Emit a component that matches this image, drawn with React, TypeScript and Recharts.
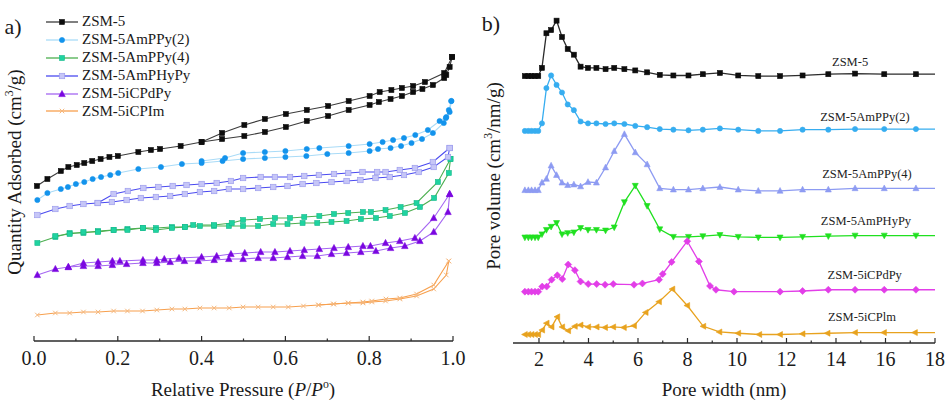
import React from 'react'
import { LineChart, Line, XAxis, YAxis, ReferenceDot } from 'recharts'

type Pt = [number, number]

// a) N2 isotherms, [P/P0, quantity adsorbed (stacked, offset units)]
const zsm5Ads: Pt[] = [[0.007,155],[0.032,162],[0.064,170],[0.082,174],[0.102,176],[0.120,178],[0.139,180],[0.159,182],[0.180,184],[0.200,185],[0.249,189],[0.279,191],[0.301,192],[0.350,195],[0.400,199],[0.449,202],[0.502,205],[0.551,209],[0.601,214],[0.651,220],[0.702,225],[0.751,231],[0.801,236],[0.823,239],[0.851,242],[0.878,245],[0.905,249],[0.927,252],[0.952,256],[0.979,263],[0.984,266],[0.992,274],[0.998,284]]
const zsm5Des: Pt[] = [[0.400,199],[0.449,208],[0.502,216],[0.551,222],[0.601,227],[0.651,231],[0.702,235],[0.751,240],[0.801,245],[0.825,249],[0.853,251],[0.878,253],[0.905,255],[0.933,259],[0.979,268],[0.998,284]]

const ampPy2Ads: Pt[] = [[0.008,141],[0.032,148],[0.064,152],[0.081,154],[0.100,157],[0.120,159],[0.140,162],[0.160,164],[0.182,166],[0.201,168],[0.249,172],[0.303,174],[0.353,177],[0.400,178],[0.450,180],[0.499,182],[0.551,183],[0.600,184],[0.650,185],[0.700,187],[0.751,188],[0.801,190],[0.821,192],[0.851,193],[0.876,195],[0.901,198],[0.926,202],[0.952,208],[0.978,218],[0.983,223],[0.992,229],[0.996,240]]
const ampPy2Des: Pt[] = [[0.400,180],[0.456,183],[0.499,188],[0.551,189],[0.600,190],[0.651,192],[0.681,193],[0.751,195],[0.801,197],[0.832,199],[0.857,201],[0.883,203],[0.910,206],[0.940,211],[0.968,220],[0.984,224],[0.990,231],[0.996,240]]

const ampPy4Ads: Pt[] = [[0.008,98],[0.051,104],[0.085,108],[0.118,108],[0.153,110],[0.190,111],[0.223,112],[0.260,113],[0.291,113],[0.329,114],[0.360,114],[0.396,115],[0.430,115],[0.465,115],[0.499,115],[0.535,115],[0.571,117],[0.605,117],[0.641,118],[0.676,118],[0.710,119],[0.746,120],[0.780,122],[0.816,123],[0.849,125],[0.885,128],[0.921,134],[0.955,143],[0.990,168],[0.994,182]]
const ampPy4Des: Pt[] = [[0.051,105],[0.085,107],[0.118,109],[0.153,109],[0.190,111],[0.223,111],[0.260,113],[0.291,111],[0.329,113],[0.360,114],[0.380,116],[0.430,116],[0.472,118],[0.499,121],[0.539,122],[0.575,123],[0.611,123],[0.645,124],[0.681,125],[0.716,127],[0.750,128],[0.785,129],[0.804,129],[0.839,131],[0.875,134],[0.913,138],[0.964,159],[0.994,182]]

const amphyPyAds: Pt[] = [[0.008,126],[0.051,132],[0.085,135],[0.118,137],[0.152,138],[0.186,139],[0.221,141],[0.255,143],[0.291,144],[0.325,145],[0.360,147],[0.396,149],[0.430,150],[0.465,152],[0.499,152],[0.535,153],[0.571,154],[0.605,155],[0.641,157],[0.674,158],[0.710,159],[0.746,160],[0.779,161],[0.815,163],[0.849,164],[0.883,166],[0.918,169],[0.954,174],[0.988,184],[0.992,193]]
const amphyPyDes: Pt[] = [[0.152,138],[0.190,147],[0.224,150],[0.261,153],[0.297,154],[0.331,155],[0.364,156],[0.400,157],[0.436,158],[0.470,160],[0.499,163],[0.541,164],[0.575,164],[0.611,164],[0.645,165],[0.680,166],[0.716,167],[0.750,168],[0.784,169],[0.819,169],[0.839,169],[0.873,171],[0.909,173],[0.952,179],[0.992,193]]

const icpdPyAds: Pt[] = [[0.008,66],[0.051,72],[0.082,74],[0.118,75],[0.153,75],[0.187,76],[0.221,77],[0.260,78],[0.293,78],[0.325,79],[0.359,80],[0.392,80],[0.430,81],[0.465,82],[0.499,82],[0.535,83],[0.571,83],[0.605,84],[0.641,85],[0.676,85],[0.710,87],[0.746,88],[0.780,89],[0.816,90],[0.851,93],[0.885,95],[0.921,100],[0.954,109],[0.988,129],[0.992,147]]
const icpdPyDes: Pt[] = [[0.082,74],[0.118,78],[0.153,79],[0.187,80],[0.205,80],[0.260,81],[0.293,81],[0.311,82],[0.346,83],[0.400,84],[0.436,85],[0.470,87],[0.503,88],[0.541,89],[0.575,89],[0.611,90],[0.645,91],[0.681,92],[0.716,93],[0.750,94],[0.785,95],[0.803,95],[0.839,98],[0.873,100],[0.909,103],[0.954,123],[0.992,147]]

const icpImAds: Pt[] = [[0.008,26],[0.051,28],[0.085,28],[0.118,29],[0.153,29],[0.190,30],[0.223,30],[0.259,30],[0.293,31],[0.329,32],[0.360,32],[0.396,33],[0.430,33],[0.466,33],[0.499,34],[0.535,34],[0.571,34],[0.607,34],[0.643,35],[0.679,36],[0.715,37],[0.750,38],[0.785,38],[0.806,39],[0.839,40],[0.873,42],[0.913,45],[0.954,52],[0.984,66],[0.990,80]]
const icpImDes: Pt[] = [[0.679,36],[0.715,37],[0.750,38],[0.785,39],[0.806,40],[0.840,42],[0.873,43],[0.913,47],[0.954,56],[0.990,80]]

const pressureTicks = [0, 0.1, 0.2, 0.3, 0.4, 0.5, 0.6, 0.7, 0.8, 0.9, 1.0]

// b) pore size distributions (curves offset vertically)
const poreWidth = [1.43,1.57,1.70,1.84,1.97,2.12,2.30,2.49,2.71,2.93,3.16,3.41,3.68,3.98,4.32,4.69,5.04,5.45,5.89,6.37,6.88,7.43,8.04,8.62,9.31,10.05,10.86,11.74,12.65,13.69,14.77,15.95,17.23,18.4]
const poreWidthCPdPy = [1.43,1.57,1.70,1.84,1.97,2.13,2.31,2.51,2.74,2.94,3.18,3.45,3.68,3.99,4.33,4.67,5.00,5.84,6.18,6.85,7.00,7.36,7.99,8.46,8.91,9.15,9.88,11.74,12.65,13.69,14.77,15.95,17.23,18.4]
const poreWidthCPIm = [1.43,1.57,1.70,1.84,1.97,2.13,2.31,2.51,2.74,2.94,3.18,3.45,3.68,3.99,4.33,4.67,5.00,5.43,5.84,6.31,6.85,7.39,7.99,8.64,9.29,10.05,10.90,11.74,12.65,13.66,14.77,15.94,17.19,18.4]

const psdZsm5 = [4.60,4.60,4.60,4.60,4.60,4.73,5.28,5.33,5.48,5.22,5.03,4.94,4.75,4.73,4.73,4.71,4.73,4.71,4.69,4.66,4.62,4.61,4.61,4.63,4.65,4.61,4.60,4.60,4.61,4.63,4.64,4.63,4.63,4.63]
const psdAmPPy2 = [3.73,3.73,3.73,3.73,3.73,3.85,4.41,4.61,4.46,4.34,4.15,4.06,3.88,3.85,3.85,3.84,3.85,3.84,3.81,3.79,3.76,3.75,3.74,3.75,3.77,3.75,3.73,3.73,3.75,3.75,3.76,3.76,3.76,3.76]
const psdAmPPy4 = [2.79,2.79,2.79,2.79,2.79,2.91,2.97,3.18,3.03,2.91,2.87,2.88,2.85,2.92,2.91,3.15,3.41,3.68,3.39,3.20,2.82,2.80,2.80,2.82,2.84,2.80,2.78,2.78,2.80,2.80,2.82,2.82,2.82,2.82]
const psdAmPHyPy = [2.04,2.04,2.04,2.04,2.04,2.09,2.16,2.21,2.27,2.09,2.11,2.12,2.19,2.16,2.16,2.15,2.20,2.60,2.86,2.54,2.17,2.05,2.05,2.06,2.08,2.05,2.04,2.04,2.05,2.06,2.07,2.07,2.07,2.07]
const psdICPdPy = [1.18,1.18,1.18,1.18,1.18,1.26,1.26,1.37,1.44,1.38,1.61,1.52,1.34,1.30,1.30,1.29,1.30,1.29,1.31,1.37,1.46,1.65,1.98,1.66,1.27,1.21,1.18,1.18,1.19,1.21,1.21,1.21,1.21,1.21]
const psdICPIm = [0.50,0.50,0.50,0.50,0.50,0.57,0.68,0.62,0.78,0.62,0.56,0.63,0.65,0.62,0.62,0.61,0.62,0.61,0.64,0.85,1.02,1.22,0.96,0.63,0.54,0.52,0.50,0.50,0.51,0.52,0.53,0.53,0.53,0.53]

const widthTicks = [2, 3, 4, 5, 6, 7, 8, 9, 10, 11, 12, 13, 14, 15, 16, 17, 18]
const volumeTicks = [1, 2, 3, 4, 5]

const FONT = "'Liberation Serif', 'Times New Roman', Times, serif"
const AXIS = '#2b2b2b'
const axisLine = { stroke: AXIS, strokeWidth: 1.3 }

type MarkerStyle = { shape: string; size: number; fill: string; stroke?: string }

function Marker({ cx, cy, m }: { cx: number; cy: number; m: MarkerStyle }) {
  const s = m.size
  const h = s / 2
  const st = { fill: m.fill, stroke: m.stroke ?? m.fill, strokeWidth: 0.6 }
  switch (m.shape) {
    case 'square':
      return <rect x={cx - h} y={cy - h} width={s} height={s} {...st} />
    case 'circle':
      return <circle cx={cx} cy={cy} r={h} {...st} />
    case 'triUp':
      return <polygon points={`${cx},${cy - h * 1.1} ${cx + h},${cy + h * 0.8} ${cx - h},${cy + h * 0.8}`} {...st} />
    case 'triDown':
      return <polygon points={`${cx},${cy + h * 1.1} ${cx + h},${cy - h * 0.8} ${cx - h},${cy - h * 0.8}`} {...st} />
    case 'triLeft':
      return <polygon points={`${cx - h * 1.1},${cy} ${cx + h * 0.8},${cy - h} ${cx + h * 0.8},${cy + h}`} {...st} />
    case 'diamond':
      return <polygon points={`${cx},${cy - h} ${cx + h},${cy} ${cx},${cy + h} ${cx - h},${cy}`} {...st} />
    case 'cross':
      return (
        <g stroke={m.fill} strokeWidth={1}>
          <line x1={cx - h} y1={cy - h} x2={cx + h} y2={cy + h} />
          <line x1={cx - h} y1={cy + h} x2={cx + h} y2={cy - h} />
        </g>
      )
    default:
      return null
  }
}

const dotRenderer = (m: MarkerStyle, id: string, maxX?: number) => (props: any) => {
  const { cx, cy, index, payload } = props
  const k = `${id}-${index}`
  if (typeof cx !== 'number' || typeof cy !== 'number') return <g key={k} />
  if (maxX != null && payload && payload.w > maxX) return <g key={k} />
  return <g key={k}><Marker cx={cx} cy={cy} m={m} /></g>
}

const isoSeries = [
  { name: 'ZSM-5', ads: zsm5Ads, des: zsm5Des, line: '#3c3c3c', marker: { shape: 'square', size: 5, fill: '#0d0d0d' } },
  { name: 'ZSM-5AmPPy(2)', ads: ampPy2Ads, des: ampPy2Des, line: '#a9dbf7', marker: { shape: 'circle', size: 5.2, fill: '#1393ec' } },
  { name: 'ZSM-5AmPPy(4)', ads: ampPy4Ads, des: ampPy4Des, line: '#4caf50', marker: { shape: 'square', size: 5, fill: '#1fd3a0', stroke: '#15b98a' } },
  { name: 'ZSM-5AmPHyPy', ads: amphyPyAds, des: amphyPyDes, line: '#4b4bf0', marker: { shape: 'square', size: 5.5, fill: '#c6c6f7', stroke: '#9595ec' } },
  { name: 'ZSM-5iCPdPy', ads: icpdPyAds, des: icpdPyDes, line: '#a566f2', marker: { shape: 'triUp', size: 6.5, fill: '#7a06e0' } },
  { name: 'ZSM-5iCPIm', ads: icpImAds, des: icpImDes, line: '#f7a04e', marker: { shape: 'cross', size: 4.5, fill: '#f5b77c' } },
]

const psdSeries = [
  { name: 'ZSM-5', x: poreWidth, y: psdZsm5, color: '#2b2b2b', marker: { shape: 'square', size: 5, fill: '#0d0d0d' }, label: [14.57, 4.83] },
  { name: 'ZSM-5AmPPy(2)', x: poreWidth, y: psdAmPPy2, color: '#36adf0', marker: { shape: 'circle', size: 5.2, fill: '#36adf0' }, label: [15.17, 3.96] },
  { name: 'ZSM-5AmPPy(4)', x: poreWidth, y: psdAmPPy4, color: '#8d9bf2', marker: { shape: 'triUp', size: 6, fill: '#8d9bf2' }, label: [15.25, 3.06] },
  { name: 'ZSM-5AmPHyPy', x: poreWidth, y: psdAmPHyPy, color: '#20e020', marker: { shape: 'triDown', size: 6, fill: '#20e020' }, label: [15.21, 2.3] },
  { name: 'ZSM-5iCPdPy', x: poreWidthCPdPy, y: psdICPdPy, color: '#e23ee8', marker: { shape: 'diamond', size: 7, fill: '#e23ee8' }, label: [15.16, 1.45] },
  { name: 'ZSM-5iCPlm', x: poreWidthCPIm, y: psdICPIm, color: '#e8a21e', marker: { shape: 'triLeft', size: 6, fill: '#e8a21e' }, label: [15.05, 0.78] },
]

const toPts = (pts: Pt[]) => pts.map(([p, v]) => ({ p, v }))

function BottomTick(props: any) {
  const { x, y, payload, isMajor, fmt, base } = props
  const major = isMajor(payload.value)
  return (
    <g>
      <line x1={x} x2={x} y1={y} y2={y - (major ? 5 : 2.5)} stroke={AXIS} strokeWidth={1.2} />
      {major && (
        <text x={x} y={y + base} textAnchor="middle" fontSize={20} fontFamily={FONT} fill="#1a1a1a">
          {fmt(payload.value)}
        </text>
      )}
    </g>
  )
}

function LeftTick(props: any) {
  const { x, y } = props
  return <line x1={x} x2={x + 4} y1={y} y2={y} stroke={AXIS} strokeWidth={1.2} />
}

function IsothermChart() {
  return (
    <LineChart width={470} height={402} margin={{ top: 3, right: 17, bottom: 31, left: 34 }}>
      <XAxis xAxisId="top" orientation="top" type="number" domain={[0, 1]} height={0} tick={false} tickLine={false} axisLine={axisLine} />
      <XAxis
        type="number"
        dataKey="p"
        domain={[0, 1]}
        ticks={pressureTicks}
        interval={0}
        tickSize={0}
        tickMargin={0}
        tickLine={false}
        axisLine={axisLine}
        height={30}
        tick={(p: any) => (
          <BottomTick {...p} base={24} isMajor={(v: number) => Math.round(v * 10) % 2 === 0} fmt={(v: number) => v.toFixed(1)} />
        )}
      />
      <YAxis type="number" domain={[0, 338]} width={0} tick={false} tickLine={false} axisLine={axisLine} />
      <YAxis yAxisId="right" orientation="right" type="number" domain={[0, 338]} width={0} tick={false} tickLine={false} axisLine={axisLine} />
      {isoSeries.flatMap((s) => [
        <Line key={s.name + '-ads'} data={toPts(s.ads)} dataKey="v" type="linear" stroke={s.line} strokeWidth={1.1}
          dot={dotRenderer(s.marker, s.name + 'a')} activeDot={false} isAnimationActive={false} />,
        <Line key={s.name + '-des'} data={toPts(s.des)} dataKey="v" type="linear" stroke={s.line} strokeWidth={1.1}
          dot={dotRenderer(s.marker, s.name + 'd')} activeDot={false} isAnimationActive={false} />,
      ])}
    </LineChart>
  )
}

function PoreChart() {
  return (
    <LineChart width={470} height={402} margin={{ top: 3, right: 10, bottom: 29, left: 38 }}>
      <XAxis xAxisId="top" orientation="top" type="number" domain={[0.95, 18]} height={0} tick={false} tickLine={false} axisLine={axisLine} />
      <XAxis
        type="number"
        dataKey="w"
        domain={[0.95, 18]}
        allowDataOverflow
        ticks={widthTicks}
        interval={0}
        tickSize={0}
        tickMargin={0}
        tickLine={false}
        axisLine={axisLine}
        height={30}
        tick={(p: any) => <BottomTick {...p} base={23} isMajor={(v: number) => v % 2 === 0} fmt={(v: number) => String(v)} />}
      />
      <YAxis type="number" domain={[0.365, 5.76]} ticks={volumeTicks} interval={0} width={0} tickSize={0} tickMargin={0}
        tickLine={false} axisLine={axisLine} tick={(p: any) => <LeftTick {...p} />} />
      <YAxis yAxisId="right" orientation="right" type="number" domain={[0.365, 5.76]} width={0} tick={false} tickLine={false} axisLine={axisLine} />
      {psdSeries.map((s) => (
        <Line key={s.name} data={s.x.map((w, i) => ({ w, v: s.y[i] }))} dataKey="v" type="linear" stroke={s.color} strokeWidth={1.3}
          dot={dotRenderer(s.marker, s.name, 18)} activeDot={false} isAnimationActive={false} />
      ))}
      {psdSeries.map((s) => (
        <ReferenceDot key={s.name + '-lbl'} x={s.label[0]} y={s.label[1]} r={0} fill="none" stroke="none" ifOverflow="visible"
          label={{ value: s.name, position: 'center', fill: '#222', fontSize: 12.5, fontFamily: FONT }} />
      ))}
    </LineChart>
  )
}

const sup = { fontSize: '0.62em', verticalAlign: 'super', lineHeight: 0 } as const

function IsoLegend() {
  return (
    <div style={{ position: 'absolute', left: 46, top: 13, fontFamily: FONT, fontSize: 15, color: '#1a1a1a' }}>
      {isoSeries.map((s) => (
        <div key={s.name} style={{ display: 'flex', alignItems: 'center', height: 17.9 }}>
          <svg width={32} height={12} style={{ display: 'block' }}>
            <line x1={0} x2={32} y1={6} y2={6} stroke={s.line} strokeWidth={1.3} />
            <Marker cx={16} cy={6} m={s.marker} />
          </svg>
          <span style={{ marginLeft: 4, lineHeight: 1, whiteSpace: 'nowrap' }}>{s.name}</span>
        </div>
      ))}
    </div>
  )
}

const centered = (left: number, top: number, rotate = false): React.CSSProperties => ({
  position: 'absolute',
  left,
  top,
  transform: `translate(-50%, -50%)${rotate ? ' rotate(-90deg)' : ''}`,
  whiteSpace: 'nowrap',
  fontFamily: FONT,
  fontSize: 19,
  lineHeight: 1,
  color: '#1a1a1a',
})

export default function App() {
  return (
    <>
      <style>{'body{margin:0}'}</style>
      <div style={{ position: 'relative', width: 945, height: 402, background: '#fff', overflow: 'hidden' }}>
        <div style={{ position: 'absolute', left: 0, top: 0 }}>
          <IsothermChart />
        </div>
        <div style={{ position: 'absolute', left: 475, top: 0 }}>
          <PoreChart />
        </div>
        <IsoLegend />
        <div style={{ ...centered(13, 27), fontSize: 22 }}>a)</div>
        <div style={{ ...centered(491, 24), fontSize: 22 }}>b)</div>
        <div style={centered(14, 172, true)}>
          Quantity Adsorbed (cm<span style={sup}>3</span>/g)
        </div>
        <div style={centered(243, 389)}>
          Relative Pressure (<i>P</i>/<i>P</i><span style={sup}>o</span>)
        </div>
        <div style={centered(493, 176, true)}>
          Pore volume (cm<span style={sup}>3</span>/nm/g)
        </div>
        <div style={centered(724, 389)}>Pore width (nm)</div>
      </div>
    </>
  )
}
